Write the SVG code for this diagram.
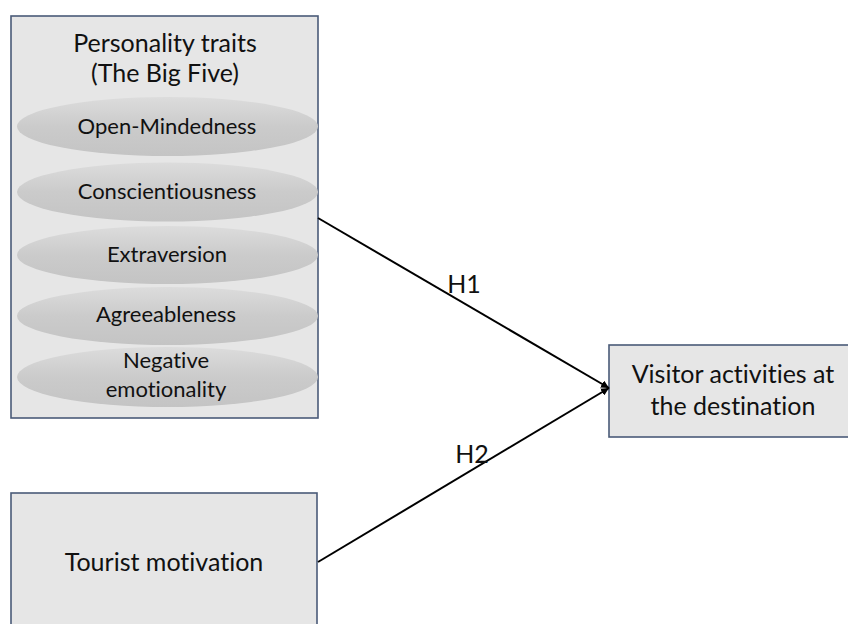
<svg xmlns="http://www.w3.org/2000/svg" width="848" height="624" viewBox="0 0 848 624">
<defs>
<style>
.box{fill:#e6e6e6;stroke:#4a5b78;stroke-width:1.6}
.ell{fill:url(#eg)}
.t{font-family:Lato,"Open Sans",sans-serif;fill:#111;text-anchor:middle;font-variant-ligatures:none;font-feature-settings:"liga" 0}
.big{font-size:25px}
.sm{font-size:22px}
.edge{stroke:#000;stroke-width:2;fill:none;marker-end:url(#ah)}
</style>
<linearGradient id="eg" x1="0" y1="0" x2="0" y2="1">
<stop offset="0" stop-color="#dcdcdc"/>
<stop offset="0.5" stop-color="#cbcbcb"/>
<stop offset="1" stop-color="#c4c4c4"/>
</linearGradient>
<marker id="ah" viewBox="0 0 10 10" refX="10" refY="5" markerWidth="8" markerHeight="8" markerUnits="userSpaceOnUse" orient="auto">
<path d="M0,0 L10,5 L0,10 z" fill="#000"/>
</marker>
</defs>
<rect width="848" height="624" fill="#fff"/>
<g id="personality">
<rect class="box" x="11" y="16" width="307" height="402"/>
<text class="t big" x="165" y="52">Personality traits</text>
<text class="t big" x="165" y="82">(The Big Five)</text>
</g>
<g id="open">
<ellipse class="ell" cx="167.5" cy="126.5" rx="150.5" ry="29.5"/>
<text class="t sm" x="167" y="134">Open-Mindedness</text>
</g>
<g id="consc">
<ellipse class="ell" cx="167.5" cy="192" rx="150.5" ry="29.5"/>
<text class="t sm" x="167" y="199">Conscientiousness</text>
</g>
<g id="extra">
<ellipse class="ell" cx="167.5" cy="255" rx="150.5" ry="29"/>
<text class="t sm" x="167" y="262">Extraversion</text>
</g>
<g id="agree">
<ellipse class="ell" cx="167.5" cy="316" rx="150.5" ry="29"/>
<text class="t sm" x="166" y="322">Agreeableness</text>
</g>
<g id="neg">
<ellipse class="ell" cx="167.5" cy="377" rx="150.5" ry="30"/>
<text class="t sm" x="166" y="368">Negative</text>
<text class="t sm" x="166" y="397">emotionality</text>
</g>
<g id="tourist">
<rect class="box" x="11" y="493" width="306" height="140"/>
<text class="t big" x="164" y="571">Tourist motivation</text>
</g>
<g id="visitor">
<rect class="box" x="609" y="345" width="247" height="92"/>
<text class="t big" x="733" y="383">Visitor activities at</text>
<text class="t big" x="733" y="415">the destination</text>
</g>
<g id="connectors">
<line class="edge" x1="318" y1="218" x2="609" y2="388"/>
<line class="edge" x1="318" y1="562" x2="609" y2="388"/>
<text class="t big" x="464" y="293">H1</text>
<text class="t big" x="472" y="463">H2</text>
</g>
</svg>
